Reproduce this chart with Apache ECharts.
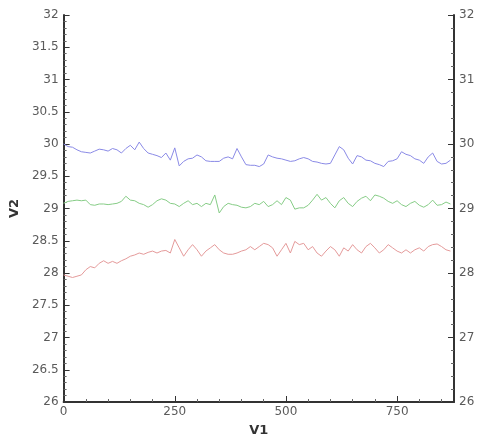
<!DOCTYPE html>
<html>
<head>
<meta charset="utf-8">
<script src="https://cdn.jsdelivr.net/npm/echarts@6/dist/echarts.min.js"></script>
<style>
  html, body { margin: 0; padding: 0; background: #fff; }
  #chart { width: 478px; height: 442px; }
</style>
</head>
<body>
<div id="chart"></div>
<script>
// V1 sample positions (step 10)
const v1 = [];
for (let i = 0; i < 88; i++) v1.push(i * 10);

// Upper trace (blue)
const seriesBlue = [
  30.00, 29.96, 29.95, 29.91, 29.88, 29.87, 29.86, 29.89, 29.92, 29.91,
  29.89, 29.93, 29.91, 29.86, 29.93, 29.98, 29.91, 30.03, 29.93, 29.86,
  29.84, 29.82, 29.79, 29.86, 29.75, 29.94, 29.66, 29.73, 29.77, 29.78,
  29.83, 29.80, 29.74, 29.73, 29.73, 29.73, 29.78, 29.80, 29.77, 29.93,
  29.80, 29.68, 29.67, 29.67, 29.65, 29.69, 29.83, 29.80, 29.78, 29.77,
  29.75, 29.73, 29.74, 29.77, 29.79, 29.77, 29.73, 29.72, 29.70, 29.69,
  29.70, 29.83, 29.96, 29.91, 29.78, 29.69, 29.82, 29.80, 29.75, 29.74,
  29.70, 29.68, 29.65, 29.73, 29.74, 29.77, 29.88, 29.84, 29.82, 29.77,
  29.75, 29.70, 29.80, 29.86, 29.73, 29.69, 29.70, 29.75
];

// Middle trace (green)
const seriesGreen = [
  29.08, 29.11, 29.12, 29.13, 29.12, 29.13, 29.06, 29.05, 29.07, 29.07,
  29.06, 29.07, 29.08, 29.11, 29.19, 29.13, 29.12, 29.08, 29.06, 29.02,
  29.06, 29.12, 29.15, 29.13, 29.08, 29.07, 29.03, 29.08, 29.12, 29.06,
  29.08, 29.03, 29.08, 29.06, 29.21, 28.93, 29.03, 29.08, 29.06, 29.05,
  29.02, 29.01, 29.03, 29.08, 29.06, 29.11, 29.03, 29.06, 29.12, 29.06,
  29.17, 29.13, 28.99, 29.01, 29.01, 29.05, 29.13, 29.22, 29.13, 29.17,
  29.08, 29.01, 29.12, 29.17, 29.08, 29.03, 29.11, 29.16, 29.19, 29.12,
  29.21, 29.19, 29.16, 29.11, 29.08, 29.12, 29.06, 29.03, 29.08, 29.11,
  29.05, 29.02, 29.06, 29.13, 29.05, 29.06, 29.10, 29.07
];

// Lower trace (red)
const seriesRed = [
  27.97, 27.95, 27.93, 27.95, 27.97, 28.05, 28.10, 28.08, 28.15, 28.19,
  28.15, 28.18, 28.15, 28.19, 28.22, 28.26, 28.28, 28.31, 28.29, 28.32,
  28.34, 28.31, 28.34, 28.35, 28.31, 28.52, 28.39, 28.26, 28.36, 28.44,
  28.36, 28.26, 28.34, 28.39, 28.44, 28.36, 28.31, 28.29, 28.29, 28.31,
  28.34, 28.36, 28.41, 28.36, 28.41, 28.46, 28.44, 28.39, 28.26, 28.36,
  28.46, 28.31, 28.49, 28.44, 28.46, 28.36, 28.41, 28.31, 28.26, 28.34,
  28.41, 28.36, 28.26, 28.39, 28.34, 28.44, 28.36, 28.31, 28.41, 28.46,
  28.39, 28.31, 28.36, 28.44, 28.39, 28.34, 28.31, 28.36, 28.31, 28.36,
  28.39, 28.34, 28.41, 28.44, 28.45, 28.41, 28.36, 28.34
];

// Axis ranges and tick labels
const xTicks = [0, 250, 500, 750];
const xMax = 878;
const yMin = 26, yMax = 32;

const labelFont = { color: '#5a5a5a', fontSize: 12, fontFamily: 'DejaVu Sans' };
const axisLine = { show: true, lineStyle: { color: '#333', width: 2 } };

function pairs(ys) { return v1.map((x, i) => [x, ys[i]]); }

const chart = echarts.init(document.getElementById('chart'), null, { renderer: 'canvas' });
chart.setOption({
  animation: false,
  backgroundColor: '#fff',
  grid: { left: 61, right: 24, top: 15, bottom: 40 },
  xAxis: {
    type: 'value', min: 0, max: xMax, interval: 250,
    name: 'V1', nameLocation: 'middle', nameGap: 22,
    nameTextStyle: { color: '#333', fontSize: 13, fontWeight: 'bold', fontFamily: 'DejaVu Sans' },
    axisLine: axisLine,
    axisTick: { show: true, inside: true, length: 6, lineStyle: { color: '#333', width: 1 } },
    minorTick: { show: true, splitNumber: 5, length: 3, lineStyle: { color: '#666' } },
    axisLabel: Object.assign({ margin: 4, showMaxLabel: false,
      formatter: v => (xTicks.indexOf(v) >= 0 ? String(v) : '') }, labelFont),
    splitLine: { show: false }
  },
  yAxis: [
    {
      type: 'value', min: yMin, max: yMax, interval: 0.5, position: 'left',
      name: 'V2', nameLocation: 'middle', nameGap: 40, nameRotate: 90,
      nameTextStyle: { color: '#333', fontSize: 13, fontWeight: 'bold', fontFamily: 'DejaVu Sans' },
      axisLine: axisLine,
      axisTick: { show: true, inside: true, length: 6, lineStyle: { color: '#333', width: 1 } },
      minorTick: { show: true, splitNumber: 5, length: 3, lineStyle: { color: '#666' } },
      axisLabel: Object.assign({ margin: 5, formatter: v => String(+v.toFixed(1)) }, labelFont),
      splitLine: { show: false }
    },
    {
      type: 'value', min: yMin, max: yMax, interval: 1, position: 'right',
      axisLine: axisLine,
      axisTick: { show: true, inside: true, length: 6, lineStyle: { color: '#333', width: 1 } },
      minorTick: { show: true, splitNumber: 5, length: 3, lineStyle: { color: '#666' } },
      axisLabel: Object.assign({ margin: 5 }, labelFont),
      splitLine: { show: false }
    }
  ],
  series: [
    { type: 'line', data: pairs(seriesBlue), showSymbol: false, lineStyle: { color: '#8a8ae6', width: 1 } },
    { type: 'line', data: pairs(seriesGreen), showSymbol: false, lineStyle: { color: '#86cc86', width: 1 } },
    { type: 'line', data: pairs(seriesRed), showSymbol: false, lineStyle: { color: '#e49a9a', width: 1 } }
  ]
});
</script>
</body>
</html>
